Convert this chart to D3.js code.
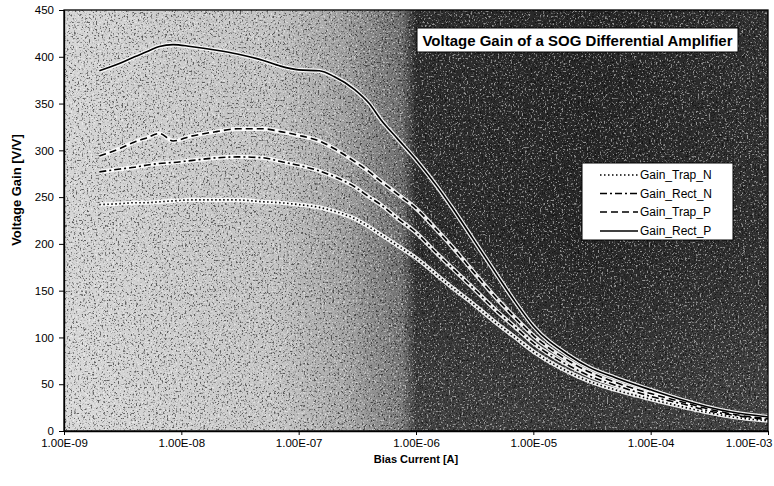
<!DOCTYPE html>
<html>
<head>
<meta charset="utf-8">
<script src="https://cdn.jsdelivr.net/npm/d3@7"></script>
<style>
  html, body { margin: 0; padding: 0; background: #ffffff; }
  svg { display: block; font-family: "Liberation Sans", Arial, sans-serif; }
</style>
</head>
<body>
<svg id="chart" width="774" height="486"></svg>
<script>
// ---- data ----
const current = [2e-9, 3e-9, 4e-9, 5e-9, 6.5e-9, 8.5e-9, 1.2e-8, 2e-8, 3e-8, 5e-8, 7e-8,
  1e-7, 1.5e-7, 2e-7, 3e-7, 4e-7, 5e-7, 7e-7, 1e-6, 1.5e-6, 2e-6, 3e-6, 5e-6, 7e-6,
  1e-5, 2e-5, 3e-5, 5e-5, 1e-4, 2e-4, 3e-4, 5e-4, 1e-3];
const gainTrapN = [242, 243, 244, 244, 245, 246, 247, 247, 247, 245, 244,
  242, 239, 235, 227, 218, 210, 198, 185, 167, 154, 137, 114, 100,
  85, 63, 53, 44, 34, 25, 20, 15, 11];
const gainRectN = [277, 280, 282, 284, 286, 287, 289, 292, 293, 292, 288,
  284, 278, 272, 261, 250, 242, 227, 212, 190, 175, 154, 127, 111,
  94, 70, 59, 49, 37, 28, 22, 17, 12];
const gainTrapP = [294, 302, 309, 313, 318, 310, 315, 320, 323, 323, 320,
  316, 310, 302, 288, 277, 267, 253, 238, 215, 198, 172, 140, 121,
  102, 75, 63, 52, 40, 30, 24, 18, 13];
const gainRectP = [385, 393, 400, 405, 411, 413, 411, 407, 403, 396, 390,
  386, 385, 379, 365, 350, 333, 312, 290, 262, 240, 207, 165, 138,
  112, 81, 68, 57, 44, 32, 26, 20, 15];
const seriesNames = ["Gain_Trap_N", "Gain_Rect_N", "Gain_Trap_P", "Gain_Rect_P"];
const seriesValues = [gainTrapN, gainRectN, gainTrapP, gainRectP];
const xTicks = [1e-9, 1e-8, 1e-7, 1e-6, 1e-5, 1e-4, 1e-3];
const xTickLabels = ["1.00E-09", "1.00E-08", "1.00E-07", "1.00E-06", "1.00E-05", "1.00E-04", "1.00E-03"];
const yTicks = [0, 50, 100, 150, 200, 250, 300, 350, 400, 450];
const chartTitle = "Voltage Gain of a SOG Differential Amplifier";
const xTitle = "Bias Current [A]";
const yTitle = "Voltage Gain [V/V]";

// ---- layout ----
const L = 64, R = 768, T = 10, B = 431;
const dashes = ["1.5,2.5", "7,3,2,3", "7,4", null];

const svg = d3.select("#chart");
const x = d3.scaleLog().domain([1e-9, 1e-3]).range([L, R]);
const y = d3.scaleLinear().domain([0, 450]).range([B, T]);

const defs = svg.append("defs");
const bg = defs.append("linearGradient").attr("id", "bgH").attr("x1", 0).attr("x2", 1).attr("y1", 0).attr("y2", 0);
[["0%", "#d6d6d6"], ["30%", "#c2c2c2"], ["40%", "#a0a0a0"], ["48%", "#6e6e6e"], ["50%", "#2e2e2e"], ["75%", "#262626"], ["100%", "#303030"]]
  .forEach(([o, c]) => bg.append("stop").attr("offset", o).attr("stop-color", c));
const bgV = defs.append("linearGradient").attr("id", "bgV").attr("x1", 0).attr("x2", 0).attr("y1", 0).attr("y2", 1);
[["0%", "#ffffff", 0.0], ["55%", "#ffffff", 0.0], ["100%", "#ffffff", 0.1]]
  .forEach(([o, c, a]) => bgV.append("stop").attr("offset", o).attr("stop-color", c).attr("stop-opacity", a));

function noiseFilter(id, seed, freq, color, thr) {
  const f = defs.append("filter").attr("id", id).attr("x", 0).attr("y", 0).attr("width", 1).attr("height", 1)
    .attr("filterUnits", "objectBoundingBox");
  f.append("feTurbulence").attr("type", "fractalNoise").attr("baseFrequency", freq).attr("numOctaves", 2)
    .attr("seed", seed).attr("result", "n");
  f.append("feColorMatrix").attr("in", "n").attr("type", "matrix")
    .attr("values", `0 0 0 0 ${color}  0 0 0 0 ${color}  0 0 0 0 ${color}  6 0 0 0 ${-6 * thr}`);
}
noiseFilter("noiseDark", 4, 0.55, 0, 0.56);
noiseFilter("noiseLight", 9, 0.55, 1, 0.57);

// plot background
svg.append("rect").attr("x", L).attr("y", T).attr("width", R - L).attr("height", B - T).attr("fill", "url(#bgH)");
svg.append("rect").attr("x", L).attr("y", T).attr("width", R - L).attr("height", B - T).attr("fill", "url(#bgV)");
svg.append("rect").attr("x", L).attr("y", T).attr("width", R - L).attr("height", B - T)
  .attr("fill", "#000").attr("filter", "url(#noiseDark)").attr("opacity", 0.55);
svg.append("rect").attr("x", L).attr("y", T).attr("width", R - L).attr("height", B - T)
  .attr("fill", "#fff").attr("filter", "url(#noiseLight)").attr("opacity", 0.5);

// lines
const line = d3.line().x((d, i) => x(current[i])).y(d => y(d)).curve(d3.curveMonotoneX);
const gLines = svg.append("g");
seriesValues.forEach((vals, k) => {
  gLines.append("path").attr("d", line(vals)).attr("fill", "none")
    .attr("stroke", "#ffffff").attr("stroke-width", 4.2).attr("stroke-opacity", 0.9);
});
seriesValues.forEach((vals, k) => {
  gLines.append("path").attr("d", line(vals)).attr("fill", "none")
    .attr("stroke", "#000").attr("stroke-width", 1.6)
    .attr("stroke-dasharray", dashes[k]);
});

// frame
svg.append("rect").attr("x", L).attr("y", T).attr("width", R - L).attr("height", B - T)
  .attr("fill", "none").attr("stroke", "#000").attr("stroke-width", 1.3);

// axes
const yAxis = d3.axisLeft(y).tickValues(yTicks).tickSize(5).tickSizeOuter(0).tickFormat(d3.format("d"));
const gy = svg.append("g").attr("transform", `translate(${L},0)`).call(yAxis);
gy.select(".domain").attr("stroke", "#000").attr("stroke-width", 1.3);
gy.selectAll("text").attr("font-size", 11.5).attr("fill", "#000").attr("x", -10)
  .attr("font-family", "Liberation Sans, Arial, sans-serif");

const xAxis = d3.axisBottom(x).tickValues(xTicks).tickSize(4).tickSizeOuter(0)
  .tickFormat((d, i) => xTickLabels[i]);
const gx = svg.append("g").attr("transform", `translate(0,${B})`).call(xAxis);
gx.select(".domain").attr("stroke", "#000").attr("stroke-width", 1.3);
gx.selectAll("text").attr("font-size", 11.5).attr("fill", "#000").attr("y", 8)
  .attr("font-family", "Liberation Sans, Arial, sans-serif");
// keep the last label inside the picture, as in the reference
gx.selectAll(".tick").filter((d, i) => i === xTicks.length - 1)
  .select("text").attr("text-anchor", "end").attr("x", 4);

// axis titles
svg.append("text").attr("x", (L + R) / 2).attr("y", 463).attr("text-anchor", "middle")
  .attr("font-size", 11).attr("font-weight", "bold").text(xTitle);
svg.append("text").attr("transform", `translate(21,190) rotate(-90)`).attr("text-anchor", "middle")
  .attr("font-size", 13).attr("font-weight", "bold").text(yTitle);

// chart title box
svg.append("rect").attr("x", 417).attr("y", 28).attr("width", 321).attr("height", 24)
  .attr("fill", "#fff").attr("stroke", "#000").attr("stroke-width", 1);
svg.append("text").attr("x", 577.5).attr("y", 45.5).attr("text-anchor", "middle")
  .attr("font-size", 15).attr("font-weight", "bold").text(chartTitle);

// legend
const lg = svg.append("g");
lg.append("rect").attr("x", 582).attr("y", 163).attr("width", 151).attr("height", 77)
  .attr("fill", "#fff").attr("stroke", "#000").attr("stroke-width", 1);
const rowY = [175, 193.5, 212, 231];
seriesNames.forEach((name, k) => {
  lg.append("line").attr("x1", 600).attr("x2", 638).attr("y1", rowY[k]).attr("y2", rowY[k])
    .attr("stroke", "#000").attr("stroke-width", 1.6).attr("stroke-dasharray", dashes[k]);
  lg.append("text").attr("x", 640).attr("y", rowY[k] + 4).attr("font-size", 12).text(name);
});
</script>
</body>
</html>
